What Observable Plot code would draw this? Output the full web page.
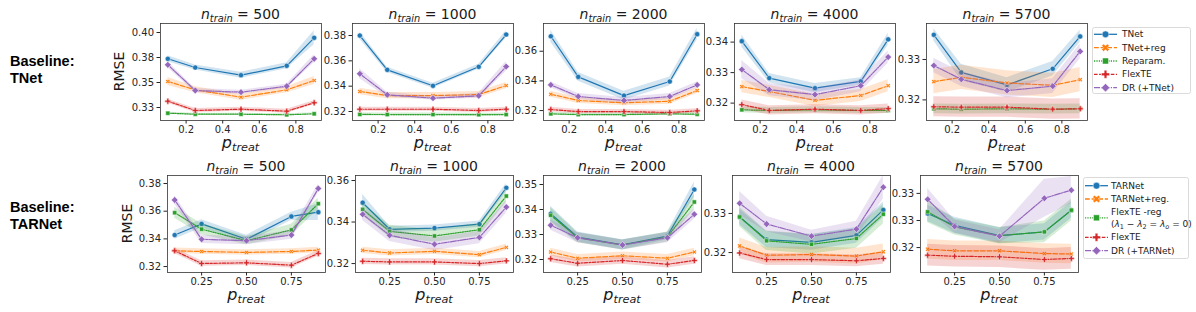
<!DOCTYPE html>
<html><head><meta charset="utf-8">
<script src="https://cdn.jsdelivr.net/npm/d3@7"></script>
<script src="https://cdn.jsdelivr.net/npm/@observablehq/plot@0.6"></script>
<style>
html,body{margin:0;padding:0;background:#fff;}
#fig{position:relative;width:1196px;height:312px;overflow:hidden;background:#fff;font-family:"DejaVu Sans";}
#fig svg{position:absolute;overflow:visible;}
</style></head><body><div id="fig"></div>
<script>
// ---------- data ----------
const pTreat = [0.1, 0.25, 0.5, 0.75, 0.9];
const nTrain = [500, 1000, 2000, 4000, 5700];
const methodsTNet = ["TNet", "TNet+reg", "Reparam.", "FlexTE", "DR (+TNet)"];
const methodsTARNet = ["TARNet", "TARNet+reg.", "FlexTE -reg", "FlexTE", "DR (+TARNet)"];

const xTicksTNet = [0.2, 0.4, 0.6, 0.8];
const xTickLabelsTNet = ["0.2", "0.4", "0.6", "0.8"];
const xTicksTARNet = [0.25, 0.5, 0.75];
const xTickLabelsTARNet = ["0.25", "0.50", "0.75"];

const yTicksTNet = [[0.325, 0.35, 0.375, 0.4], [0.32, 0.34, 0.36, 0.38], [0.32, 0.34, 0.36], [0.32, 0.33, 0.34], [0.32, 0.33]];
const yTickLabelsTNet = [["0.33", "0.35", "0.38", "0.40"], ["0.32", "0.34", "0.36", "0.38"], ["0.32", "0.34", "0.36"], ["0.32", "0.33", "0.34"], ["0.32", "0.33"]];
const yTicksTARNet = [[0.32, 0.34, 0.36, 0.38], [0.32, 0.34, 0.36], [0.32, 0.33, 0.34, 0.35], [0.32, 0.33], [0.32, 0.325, 0.33]];
const yTickLabelsTARNet = [["0.32", "0.34", "0.36", "0.38"], ["0.32", "0.34", "0.36"], ["0.32", "0.33", "0.34", "0.35"], ["0.32", "0.33"], ["0.32", "0.33", "0.33"]];

// RMSE per series (rows follow the methods order), at each pTreat
const rmseTNet500 = [
  [0.3737, 0.365, 0.3573, 0.3667, 0.3947],
  [0.351, 0.3427, 0.3353, 0.3427, 0.352],
  [0.3193, 0.3183, 0.3183, 0.3177, 0.3187],
  [0.3313, 0.322, 0.3233, 0.3213, 0.3297],
  [0.3677, 0.342, 0.3403, 0.3463, 0.3737]];
const ciTNet500 = [
  [0.003, 0.0025, 0.003, 0.003, 0.007],
  [0.004, 0.003, 0.003, 0.003, 0.004],
  [0.001, 0.001, 0.001, 0.001, 0.001],
  [0.002, 0.002, 0.002, 0.002, 0.002],
  [0.003, 0.002, 0.002, 0.002, 0.004]];
const rmseTNet1000 = [
  [0.380, 0.3529, 0.3403, 0.3553, 0.3808],
  [0.3358, 0.3326, 0.3326, 0.3334, 0.3405],
  [0.3177, 0.3176, 0.3176, 0.3175, 0.3176],
  [0.3218, 0.3218, 0.3218, 0.3208, 0.3218],
  [0.3498, 0.3332, 0.3305, 0.3324, 0.3555]];
const ciTNet1000 = [
  [0.003, 0.002, 0.002, 0.002, 0.003],
  [0.0025, 0.0025, 0.0025, 0.0025, 0.0025],
  [0.0012, 0.0012, 0.0012, 0.0012, 0.0012],
  [0.0015, 0.0015, 0.0015, 0.0015, 0.0015],
  [0.004, 0.002, 0.0015, 0.002, 0.004]];
const rmseTNet2000 = [
  [0.3701, 0.3427, 0.3301, 0.3396, 0.3715],
  [0.331, 0.3268, 0.3252, 0.3263, 0.3335],
  [0.3178, 0.3173, 0.3173, 0.3178, 0.3175],
  [0.3207, 0.3193, 0.3193, 0.3187, 0.3198],
  [0.3373, 0.3295, 0.3268, 0.3295, 0.3373]];
const ciTNet2000 = [
  [0.004, 0.003, 0.003, 0.003, 0.004],
  [0.002, 0.002, 0.002, 0.002, 0.002],
  [0.001, 0.001, 0.001, 0.001, 0.001],
  [0.0015, 0.0015, 0.0015, 0.0015, 0.0015],
  [0.002, 0.002, 0.002, 0.002, 0.002]];
const rmseTNet4000 = [
  [0.3403, 0.3282, 0.3249, 0.3271, 0.3409],
  [0.3254, 0.3238, 0.3209, 0.3225, 0.3257],
  [0.3178, 0.3176, 0.3178, 0.3176, 0.3176],
  [0.3195, 0.3176, 0.318, 0.3176, 0.3182],
  [0.331, 0.3244, 0.3228, 0.3257, 0.3351]];
const ciTNet4000 = [
  [0.002, 0.0015, 0.0015, 0.0012, 0.002],
  [0.002, 0.002, 0.002, 0.002, 0.002],
  [0.001, 0.001, 0.001, 0.001, 0.001],
  [0.0015, 0.0015, 0.0015, 0.0015, 0.0015],
  [0.003, 0.002, 0.002, 0.002, 0.002]];
const rmseTNet5700 = [
  [0.3361, 0.3268, 0.3237, 0.3277, 0.3357],
  [0.3245, 0.3256, 0.3242, 0.3236, 0.325],
  [0.3178, 0.3177, 0.3178, 0.3177, 0.3178],
  [0.3183, 0.3182, 0.3182, 0.3177, 0.3178],
  [0.3285, 0.3251, 0.3223, 0.3234, 0.332]];
const ciTNet5700 = [
  [0.0015, 0.002, 0.0018, 0.0018, 0.0015],
  [0.003, 0.003, 0.003, 0.003, 0.003],
  [0.0012, 0.0012, 0.0012, 0.0012, 0.0012],
  [0.0025, 0.0025, 0.0025, 0.0025, 0.0025],
  [0.0018, 0.0018, 0.0018, 0.0018, 0.0018]];

const rmseTARNet500 = [
  [0.3428, 0.3508, 0.3397, 0.3562, 0.3593],
  [0.3314, 0.3309, 0.3302, 0.3309, 0.3319],
  [0.3589, 0.347, 0.3387, 0.3465, 0.3654],
  [0.3314, 0.3222, 0.3227, 0.321, 0.3295],
  [0.3681, 0.3397, 0.3387, 0.3428, 0.3764]];
const ciTARNet500 = [
  [0.003, 0.003, 0.003, 0.003, 0.006],
  [0.002, 0.002, 0.002, 0.002, 0.002],
  [0.004, 0.004, 0.003, 0.004, 0.004],
  [0.002, 0.002, 0.002, 0.002, 0.002],
  [0.003, 0.003, 0.003, 0.003, 0.003]];
const rmseTARNet1000 = [
  [0.3493, 0.3365, 0.3371, 0.339, 0.3565],
  [0.3264, 0.3251, 0.3259, 0.3243, 0.3278],
  [0.3461, 0.3355, 0.3333, 0.3363, 0.3525],
  [0.3211, 0.3208, 0.3208, 0.32, 0.3213],
  [0.3437, 0.3336, 0.3293, 0.3326, 0.3472]];
const ciTARNet1000 = [
  [0.004, 0.0015, 0.0015, 0.0015, 0.002],
  [0.0015, 0.0015, 0.0015, 0.0015, 0.0015],
  [0.003, 0.003, 0.003, 0.003, 0.003],
  [0.0015, 0.0015, 0.0015, 0.0015, 0.0015],
  [0.003, 0.003, 0.003, 0.003, 0.003]];
const rmseTARNet2000 = [
  [0.3383, 0.329, 0.3259, 0.3294, 0.348],
  [0.323, 0.3205, 0.3215, 0.3205, 0.323],
  [0.3377, 0.3287, 0.3258, 0.329, 0.343],
  [0.3203, 0.3185, 0.3196, 0.3181, 0.3196],
  [0.3337, 0.3287, 0.3258, 0.3287, 0.3381]];
const ciTARNet2000 = [
  [0.003, 0.002, 0.002, 0.0015, 0.003],
  [0.0015, 0.0015, 0.0015, 0.0015, 0.0015],
  [0.003, 0.002, 0.002, 0.002, 0.003],
  [0.0015, 0.0015, 0.0015, 0.0015, 0.0015],
  [0.002, 0.002, 0.002, 0.002, 0.002]];
const rmseTARNet4000 = [
  [0.3291, 0.3233, 0.3226, 0.3244, 0.3309],
  [0.3217, 0.3193, 0.3195, 0.3191, 0.3202],
  [0.3291, 0.323, 0.3221, 0.3236, 0.3298],
  [0.3199, 0.3182, 0.3182, 0.3179, 0.3185],
  [0.3326, 0.3273, 0.3242, 0.326, 0.3367]];
const ciTARNet4000 = [
  [0.002, 0.002, 0.002, 0.002, 0.002],
  [0.002, 0.002, 0.002, 0.002, 0.002],
  [0.0025, 0.0025, 0.0025, 0.0025, 0.0025],
  [0.0015, 0.0015, 0.0015, 0.0015, 0.0015],
  [0.003, 0.002, 0.0015, 0.002, 0.003]];
const rmseTARNet5700 = [
  [0.3263, 0.3241, 0.3222, 0.3229, 0.3269],
  [0.3197, 0.3194, 0.3194, 0.3189, 0.3188],
  [0.3266, 0.3238, 0.3222, 0.3229, 0.3269],
  [0.3186, 0.3184, 0.3183, 0.3178, 0.318],
  [0.3289, 0.3239, 0.3221, 0.3291, 0.3306]];
const ciTARNet5700 = [
  [0.0015, 0.0015, 0.0015, 0.0015, 0.0015],
  [0.0018, 0.0018, 0.0018, 0.0018, 0.0018],
  [0.002, 0.0015, 0.0015, 0.002, 0.002],
  [0.002, 0.002, 0.002, 0.002, 0.002],
  [0.002, 0.0012, 0.0012, 0.0035, 0.0025]];

// ---------- layout / style ----------
const colors = ["#1f77b4", "#ff7f0e", "#2ca02c", "#d62728", "#9467bd"];
const dashes = [null, "4.8,1.8", "1.2,1.2", "3.6,1.5,1.8,1.5", "6,1.2,1.2,1.2"];
const diamondSym = {draw(ctx, size) { const r = Math.sqrt(size / 2); ctx.moveTo(0, -r); ctx.lineTo(r, 0); ctx.lineTo(0, r); ctx.lineTo(-r, 0); ctx.closePath(); }};
const xSym = {draw(ctx, size) {
  const r = Math.sqrt(size / 5) / 2;
  const pts = [[-3*r,-r],[-r,-r],[-r,-3*r],[r,-3*r],[r,-r],[3*r,-r],[3*r,r],[r,r],[r,3*r],[-r,3*r],[-r,r],[-3*r,r]];
  pts.forEach(([x, y], i) => { const a = (x - y) / Math.SQRT2, b = (x + y) / Math.SQRT2; i ? ctx.lineTo(a, b) : ctx.moveTo(a, b); });
  ctx.closePath();
}};
const symbols = ["circle", xSym, "square", "cross", diamondSym];
const markerR = [2.6, 2.0, 2.4, 2.5, 2.7];

const rows = [
  {methods: methodsTNet, values: [rmseTNet500, rmseTNet1000, rmseTNet2000, rmseTNet4000, rmseTNet5700],
   cis: [ciTNet500, ciTNet1000, ciTNet2000, ciTNet4000, ciTNet5700],
   xTicks: xTicksTNet, xLabels: xTickLabelsTNet, yTicks: yTicksTNet, yLabels: yTickLabelsTNet,
   yDomains: [[0.312, 0.409], [0.3129, 0.3895], [0.3133, 0.3787], [0.3143, 0.3461], [0.3149, 0.3389]],
   lefts: [160, 352, 543, 734, 926], width: 161, top: 23, bottom: 120},
  {methods: methodsTARNet, values: [rmseTARNet500, rmseTARNet1000, rmseTARNet2000, rmseTARNet4000, rmseTARNet5700],
   cis: [ciTARNet500, ciTARNet1000, ciTARNet2000, ciTARNet4000, ciTARNet5700],
   xTicks: xTicksTARNet, xLabels: xTickLabelsTARNet, yTicks: yTicksTARNet, yLabels: yTickLabelsTARNet,
   yDomains: [[0.3157, 0.3858], [0.3157, 0.3624], [0.3148, 0.3536], [0.3149, 0.3397], [0.3154, 0.3333]],
   lefts: [167, 355, 543, 732, 920], width: 158, top: 175, bottom: 272}
];

const fig = document.getElementById("fig");
const mL = 40, mR = 6, mT = 6, mB = 22;
const lookup = (ticks, labels) => d => { const i = ticks.findIndex(t => Math.abs(t - d) < 1e-9); return i >= 0 ? labels[i] : ""; };

rows.forEach(row => {
  row.values.forEach((vals, k) => {
    const marks = [];
    row.methods.forEach((m, s) => {
      const ds = pTreat.map((p, j) => ({p, v: vals[s][j], lo: vals[s][j] - row.cis[k][s][j], hi: vals[s][j] + row.cis[k][s][j]}));
      marks.push(Plot.areaY(ds, {x: "p", y1: "lo", y2: "hi", fill: colors[s], fillOpacity: 0.2}));
      marks.push(Plot.line(ds, {x: "p", y: "v", stroke: colors[s], strokeWidth: 1.2, strokeDasharray: dashes[s]}));
      marks.push(Plot.dot(ds, {x: "p", y: "v", symbol: symbols[s], r: markerR[s], fill: colors[s], stroke: "white", strokeWidth: 0.5}));
    });
    marks.push(Plot.frame({stroke: "#333", strokeWidth: 0.8}));
    const yt = row.yTicks[k];
    const h = row.bottom - row.top;
    const svg = Plot.plot({
      width: row.width + mL + mR, height: h + mT + mB,
      marginLeft: mL, marginRight: mR, marginTop: mT, marginBottom: mB,
      style: {fontFamily: "DejaVu Sans", fontSize: "10px", color: "#262626", background: "transparent"},
      x: {domain: [0.06, 0.94], ticks: row.xTicks, tickFormat: lookup(row.xTicks, row.xLabels), tickSize: 3.5, tickPadding: 2, label: null},
      y: {domain: row.yDomains[k], ticks: yt, tickFormat: lookup(yt, row.yLabels[k]), tickSize: 3.5, tickPadding: 3, label: null},
      marks
    });
    svg.style.left = (row.lefts[k] - mL) + "px";
    svg.style.top = (row.top - mT) + "px";
    fig.appendChild(svg);
  });
});

// ---------- text overlay: titles, axis labels, row labels, legends ----------
const NS = "http://www.w3.org/2000/svg";
let o = `<svg xmlns="${NS}" width="1196" height="312" style="left:0;top:0;pointer-events:none" font-family="DejaVu Sans" fill="#1a1a1a">`;
rows.forEach((row, r) => {
  const tBase = r === 0 ? 19 : 171, xBase = r === 0 ? 148 : 300;
  row.lefts.forEach((L, k) => {
    const cx = L + row.width / 2;
    o += `<text x="${cx}" y="${tBase}" text-anchor="middle" font-size="14"><tspan font-style="italic">n</tspan><tspan font-style="italic" font-size="9.8" dy="3">train</tspan><tspan dy="-3"> = ${nTrain[k]}</tspan></text>`;
    o += `<text x="${cx}" y="${xBase}" text-anchor="middle" font-size="16"><tspan font-style="italic">p</tspan><tspan font-style="italic" font-size="11.2" dy="3">treat</tspan></text>`;
  });
  const rx = r === 0 ? 124 : 132, ry = (row.top + row.bottom) / 2;
  o += `<text transform="translate(${rx},${ry}) rotate(-90)" text-anchor="middle" font-size="14">RMSE</text>`;
});
const rowLabels = [["Baseline:", "TNet"], ["Baseline:", "TARNet"]];
const rowLabelBase = [[65.7, 83.3], [211.7, 229.3]];
rowLabels.forEach((ls, r) => ls.forEach((t, i) => {
  o += `<text x="10" y="${rowLabelBase[r][i]}" font-family="Liberation Sans" font-weight="bold" font-size="14.5" fill="#000">${t}</text>`;
}));

// legends
function swatch(s, x0, cy) {
  let g = `<line x1="${x0}" x2="${x0 + 23}" y1="${cy}" y2="${cy}" stroke="${colors[s]}" stroke-width="1.3" ${dashes[s] ? `stroke-dasharray="${dashes[s]}"` : ""}/>`;
  const sym = [d3.symbolCircle, xSym, d3.symbolSquare, d3.symbolCross, diamondSym][s];
  const size = Math.PI * 3.4 * 3.4;
  g += `<path transform="translate(${x0 + 11.5},${cy})" d="${d3.symbol(sym, size)()}" fill="${colors[s]}" stroke="white" stroke-width="0.5"/>`;
  return g;
}
// legend 1
o += `<rect x="1092.5" y="27.5" width="98" height="66" rx="2" fill="white" fill-opacity="0.8" stroke="#d0d0d0" stroke-width="0.8"/>`;
const leg1Y = [34.3, 47.7, 61, 74.3, 87.7];
methodsTNet.forEach((m, s) => {
  o += swatch(s, 1094, leg1Y[s]);
  o += `<text x="1122" y="${leg1Y[s]}" dy="0.35em" font-size="9">${m}</text>`;
});
// legend 2
o += `<rect x="1083.5" y="177.5" width="105" height="81" rx="2" fill="white" fill-opacity="0.8" stroke="#d0d0d0" stroke-width="0.8"/>`;
const leg2Y = [185.7, 199, 217.8, 237.3, 250.7];
methodsTARNet.forEach((m, s) => {
  o += swatch(s, 1085, leg2Y[s]);
  if (s === 2) {
    o += `<text x="1111" y="212.3" dy="0.35em" font-size="9">${m}</text>`;
    o += `<text x="1111" y="223.6" dy="0.35em" font-size="9">(<tspan font-style="italic">λ</tspan><tspan font-size="6.5" dy="2">1</tspan><tspan dy="-2"> − </tspan><tspan font-style="italic">λ</tspan><tspan font-size="6.5" dy="2">2</tspan><tspan dy="-2"> = </tspan><tspan font-style="italic">λ</tspan><tspan font-size="6.5" font-style="italic" dy="2">o</tspan><tspan dy="-2"> = 0)</tspan></text>`;
  } else {
    o += `<text x="1111" y="${leg2Y[s]}" dy="0.35em" font-size="9">${m}</text>`;
  }
});
o += `</svg>`;
fig.insertAdjacentHTML("beforeend", o);
</script></body></html>
